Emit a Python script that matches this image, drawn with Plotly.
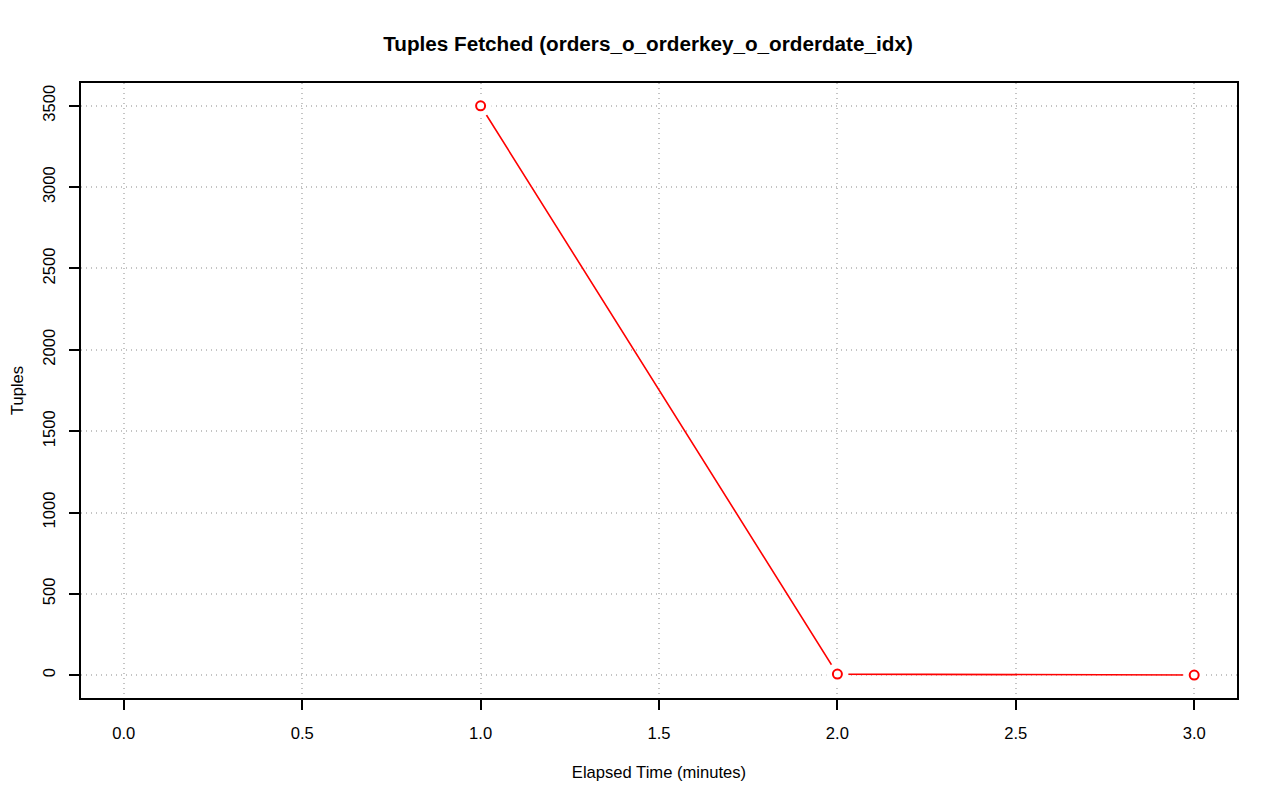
import plotly.graph_objects as go

# data
elapsed_min = [1, 2, 3]
tuples = [3500, 7, 1]

x_ticks = [0.0, 0.5, 1.0, 1.5, 2.0, 2.5, 3.0]
x_tick_text = ["0.0", "0.5", "1.0", "1.5", "2.0", "2.5", "3.0"]
y_ticks = [0, 500, 1000, 1500, 2000, 2500, 3000, 3500]

fig = go.Figure()

# the line
fig.add_trace(go.Scatter(
    x=elapsed_min, y=tuples, mode="lines",
    line=dict(color="red", width=1.6),
    hoverinfo="skip", showlegend=False,
))
# white pads so the line stops short of the points (like R type="b")
fig.add_trace(go.Scatter(
    x=elapsed_min, y=tuples, mode="markers",
    marker=dict(symbol="circle", size=22, color="white", line=dict(width=0)),
    hoverinfo="skip", showlegend=False,
))
# open circles
fig.add_trace(go.Scatter(
    x=elapsed_min, y=tuples, mode="markers",
    marker=dict(symbol="circle-open", size=9, color="red", line=dict(color="red", width=2)),
    showlegend=False,
))

font = dict(family="Liberation Sans, Arial, sans-serif", size=16.6, color="black")

fig.update_layout(
    width=1280, height=801,
    margin=dict(l=73, r=51, t=75, b=111),
    plot_bgcolor="white", paper_bgcolor="white",
    font=font,
    title=dict(text="<b>Tuples Fetched (orders_o_orderkey_o_orderdate_idx)</b>",
               x=0.5, xanchor="center", y=0.955, yanchor="middle",
               font=dict(family="Liberation Sans, Arial, sans-serif", size=20.7, color="black")),
    xaxis=dict(
        range=[-0.12, 3.12], tickvals=x_ticks, ticktext=x_tick_text,
        showgrid=True, gridcolor="#c4c4c4", griddash="1px,4px", gridwidth=1.5,
        zeroline=False, showline=True, linecolor="black", linewidth=2, mirror=True,
        ticks="outside", ticklen=10, tickwidth=1.5, tickcolor="black",
        tickfont=font, ticklabelstandoff=9, automargin=False,
        title=dict(text="Elapsed Time (minutes)", standoff=24, font=font),
    ),
    yaxis=dict(
        range=[-140, 3640], tickvals=y_ticks, tickangle=-90,
        showgrid=True, gridcolor="#c4c4c4", griddash="1px,4px", gridwidth=1.5,
        zeroline=False, showline=True, linecolor="black", linewidth=2, mirror=True,
        ticks="outside", ticklen=10, tickwidth=1.5, tickcolor="black",
        tickfont=font, ticklabelstandoff=7, automargin=False,
        title=dict(text="Tuples", standoff=16, font=font),
    ),
)

fig.write_html("out.html")
